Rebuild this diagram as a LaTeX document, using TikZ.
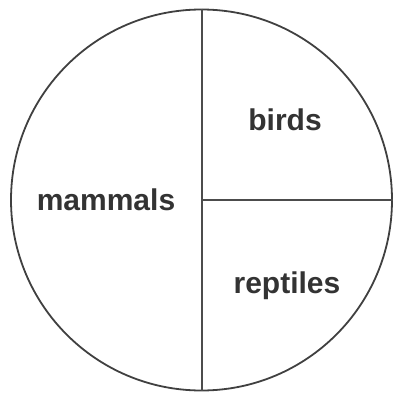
\documentclass[tikz,border=0pt]{standalone}
\usepackage{fontspec}
\setmainfont{Liberation Sans}
\begin{document}
\begin{tikzpicture}[x=1pt,y=-1pt,
  edge/.style={draw=black!70, line width=2pt},
  lbl/.style={anchor=base, inner sep=0pt, text=black!80, font=\fontsize{30}{36}\selectfont\bfseries}]
\useasboundingbox (0,0) rectangle (393,393);
\node[circle, draw=black!75, line width=1.8pt, minimum size=381pt, inner sep=0pt] (c) at (201.5,200) {};
\draw[edge] (c.north) -- (c.south);
\draw[edge] (c.center) -- (c.east);
\node[lbl] (mammals) at (106,210) {mammals};
\node[lbl] (birds) at (285,130) {birds};
\node[lbl] (reptiles) at (287,293) {reptiles};
\end{tikzpicture}
\end{document}
